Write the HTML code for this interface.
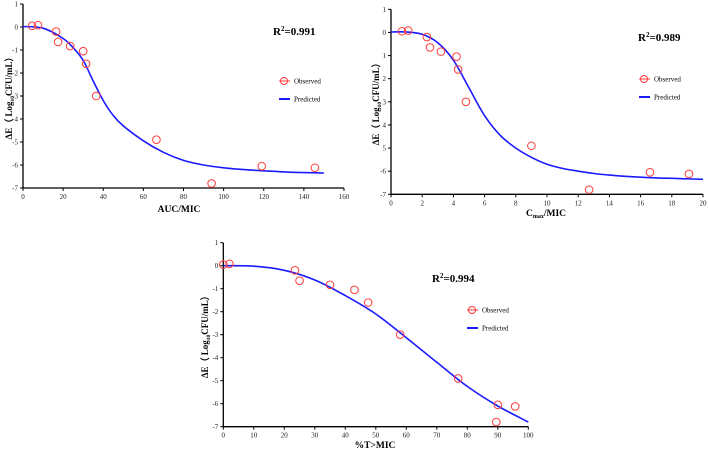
<!DOCTYPE html>
<html><head><meta charset="utf-8"><style>
html,body{margin:0;padding:0;background:#fff;}
svg{display:block;font-family:"Liberation Serif",serif;}
</style></head><body>
<svg id="s" width="708" height="451" viewBox="0 0 708 451" xmlns="http://www.w3.org/2000/svg"></svg>
<script>
// Panel A: AUC/MIC
const obsAx=[4.5,7.5,16.5,17.5,23.5,30,31.5,36.5,66.5,94,119,145.5];
const obsAy=[0.05,0.08,-0.2,-0.65,-0.83,-1.05,-1.6,-3,-4.9,-6.8,-6.05,-6.12];
const predAx=[0,10,20,25,30,35,40,45,50,60,70,80,90,100,110,120,130,140,150];
const predAy=[0.02,-0.05,-0.5,-0.9,-1.45,-2.35,-3.2,-3.85,-4.3,-4.95,-5.45,-5.8,-6.0,-6.12,-6.2,-6.25,-6.3,-6.33,-6.35];
const xTicksA=[0,20,40,60,80,100,120,140,160];
// Panel B: Cmax/MIC
const obsBx=[0.7,1.1,2.3,2.5,3.2,4.2,4.3,4.8,9,12.7,16.6,19.1];
const obsBy=[0.05,0.08,-0.2,-0.65,-0.83,-1.05,-1.6,-3,-4.9,-6.8,-6.05,-6.12];
const predBx=[0,1,2,3,4,5,6,7,8,9,10,11,12,13,14,15,16,17,18,19,20];
const predBy=[0.02,0.02,-0.08,-0.45,-1.2,-2.4,-3.6,-4.45,-5.0,-5.4,-5.7,-5.88,-6.0,-6.1,-6.17,-6.22,-6.26,-6.29,-6.31,-6.33,-6.35];
const xTicksB=[0,2,4,6,8,10,12,14,16,18,20];
const yLabelsB=["1","0","1","2","3","4","5","-6","-7"];
// Panel C: %T>MIC
const obsCx=[0,2,23.5,25,35,43,47.5,58,77,89.5,90,95.7];
const obsCy=[0.05,0.08,-0.2,-0.65,-0.83,-1.05,-1.6,-3,-4.9,-6.8,-6.05,-6.12];
const predCx=[0,10,20,30,40,50,60,70,80,90,100];
const predCy=[0,-0.02,-0.2,-0.62,-1.3,-2.1,-3.13,-4.2,-5.25,-6.1,-6.8];
const xTicksC=[0,10,20,30,40,50,60,70,80,90,100];
const yTicks=[1,0,-1,-2,-3,-4,-5,-6,-7];

const NS="http://www.w3.org/2000/svg";
const svg=document.getElementById('s');
function mk(tag,attrs,parent,text){const e=document.createElementNS(NS,tag);for(const k in attrs)e.setAttribute(k,attrs[k]);if(text!==undefined)e.textContent=text;(parent||svg).appendChild(e);return e;}
function smooth(pts){
  let d='M'+pts[0][0].toFixed(1)+' '+pts[0][1].toFixed(1);
  for(let i=0;i<pts.length-1;i++){
    const p0=pts[Math.max(0,i-1)],p1=pts[i],p2=pts[i+1],p3=pts[Math.min(pts.length-1,i+2)];
    const c1=[p1[0]+(p2[0]-p0[0])/6,p1[1]+(p2[1]-p0[1])/6];
    const c2=[p2[0]-(p3[0]-p1[0])/6,p2[1]-(p3[1]-p1[1])/6];
    d+=`C${c1[0].toFixed(1)} ${c1[1].toFixed(1)} ${c2[0].toFixed(1)} ${c2[1].toFixed(1)} ${p2[0].toFixed(1)} ${p2[1].toFixed(1)}`;
  }
  return d;
}

function panel(p){
  const g=mk('g',{});
  
  
  const X=v=>p.x0+(v-p.xmin)/(p.xmax-p.xmin)*(p.x1-p.x0);
  const Y=v=>p.yTop+(1-v)/8*(p.yBot-p.yTop);
  const ax=mk('path',{d:`M${p.x0} ${p.yTop}V${p.yBot}H${p.x1}`,stroke:'#000','stroke-width':1.3,fill:'none'},g);
  
  
  yTicks.forEach((t,i)=>{
    mk('line',{x1:p.x0-3,x2:p.x0,y1:Y(t),y2:Y(t),stroke:'#000'},g);
    const tx=mk('text',{x:p.x0-5,y:Y(t)+2.5,'font-size':7,'text-anchor':'end',fill:'#222'},g,p.yLabels?p.yLabels[i]:String(t));
    
    
  });
  p.xTicks.forEach(t=>{
    mk('line',{x1:X(t),x2:X(t),y1:p.yBot,y2:p.yBot+3,stroke:'#000'},g);
    const tx=mk('text',{x:X(t),y:p.yBot+11,'font-size':7,'text-anchor':'middle',fill:'#222'},g,String(t));
    
    
  });
  const pts=p.px.map((v,i)=>[X(v),Y(p.py[i])]);
  const ln=mk('path',{d:smooth(pts),stroke:'#1a1aff','stroke-width':1.6,fill:'none'},g);
  
  
  p.ox.forEach((v,i)=>{
    const c=mk('circle',{cx:X(v),cy:Y(p.oy[i]),r:3.8,stroke:'#ff3b3b','stroke-width':1,fill:'none'},g);
    
    
  });
  const r=mk('text',{x:p.rx,y:p.ry,'font-size':11,'font-weight':'bold'},g);
  
  
  r.innerHTML='R<tspan font-size="7" dy="-4">2</tspan><tspan dy="4">='+p.r2+'</tspan>';
  const lg=mk('g',{},g);
  
  
  mk('line',{x1:p.lx-5,x2:p.lx+6,y1:p.ly,y2:p.ly,stroke:'#ff3b3b'},lg);
  mk('circle',{cx:p.lx,cy:p.ly,r:3.5,stroke:'#ff3b3b',fill:'none'},lg);
  mk('text',{x:p.lx+10,y:p.ly+2.5,'font-size':7},lg,'Observed');
  mk('line',{x1:p.lx-5,x2:p.lx+6,y1:p.ly+18,y2:p.ly+18,stroke:'#1a1aff','stroke-width':2},lg);
  mk('text',{x:p.lx+10,y:p.ly+20.5,'font-size':7},lg,'Predicted');
  const xt=mk('text',{x:p.xtx,y:p.xty,'font-size':9.5,'font-weight':'bold','text-anchor':'middle'},g);
  
  
  xt.innerHTML=p.xtitle;
  const yt=mk('text',{x:0,y:0,'font-size':9,'font-weight':'bold','text-anchor':'middle',transform:`translate(${p.ytx},${(p.yTop+p.yBot)/2}) rotate(-90)`},g);
  
  
  yt.innerHTML='ΔE（ Log<tspan font-size="5.5" dy="2">10</tspan><tspan dy="-2">CFU/mL）</tspan>';
}
panel({name:'panel-auc-mic',x0:23,x1:344,xmin:0,xmax:160,yTop:4,yBot:188,xTicks:xTicksA,px:predAx,py:predAy,ox:obsAx,oy:obsAy,rx:273,ry:35,r2:'0.991',lx:284,ly:81,xtitle:'AUC/MIC',xtx:179,xty:212,ytx:12});
panel({name:'panel-cmax-mic',x0:391,x1:703,xmin:0,xmax:20,yTop:9.3,yBot:194.3,xTicks:xTicksB,yLabels:yLabelsB,px:predBx,py:predBy,ox:obsBx,oy:obsBy,rx:638,ry:41,r2:'0.989',lx:644,ly:79,xtitle:'C<tspan font-size="6" dy="2">max</tspan><tspan dy="-2">/MIC</tspan>',xtx:546,xty:216,ytx:379});
panel({name:'panel-t-mic',x0:223.3,x1:528.3,xmin:0,xmax:100,yTop:242.7,yBot:426.7,xTicks:xTicksC,px:predCx,py:predCy,ox:obsCx,oy:obsCy,rx:432,ry:282,r2:'0.994',lx:472,ly:310,xtitle:'%T&gt;MIC',xtx:375,xty:448,ytx:208});
</script>
</body></html>
